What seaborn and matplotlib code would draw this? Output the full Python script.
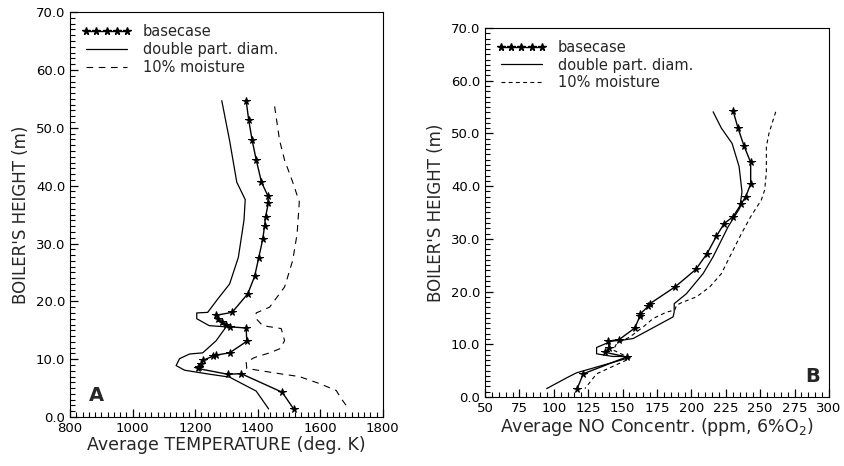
import numpy as np
import pandas as pd
import seaborn as sns
import matplotlib.pyplot as plt
from matplotlib.lines import Line2D
from matplotlib.ticker import MultipleLocator

# panel A: temperature profiles (deg K) vs height (m)
base_T = [1363, 1371, 1382, 1395, 1412, 1432, 1434, 1425, 1422, 1416, 1403, 1390, 1368,
          1318, 1267, 1272, 1286, 1299, 1310, 1363, 1365, 1310, 1265, 1256, 1224, 1219,
          1212, 1208, 1304, 1347, 1478, 1515]
base_hT = [54.7, 51.4, 47.9, 44.5, 40.6, 38.3, 37.0, 34.6, 33.1, 30.7, 27.5, 24.3, 21.3,
           18.1, 17.6, 17.0, 16.4, 16.0, 15.6, 15.4, 13.1, 11.1, 10.7, 10.5, 9.8, 9.2,
           8.6, 8.4, 7.4, 7.5, 4.3, 1.4]
diam_T = [1285, 1310, 1333, 1360, 1356, 1338, 1310, 1272, 1240, 1205, 1205, 1245, 1299,
          1267, 1224, 1182, 1150, 1139, 1166, 1235, 1310, 1395, 1435]
diam_hT = [54.7, 47.8, 40.6, 37.6, 34.0, 27.6, 23.0, 20.4, 18.1, 18.0, 17.0, 15.8, 15.6,
           13.2, 11.1, 10.9, 10.1, 8.9, 8.1, 7.5, 6.9, 4.5, 1.4]
moist_T = [1454, 1470, 1486, 1512, 1533, 1526, 1512, 1486, 1438, 1395, 1395, 1416, 1475,
           1486, 1470, 1438, 1390, 1363, 1365, 1470, 1533, 1597, 1651, 1667, 1691]
moist_hT = [53.7, 47.8, 44.4, 40.6, 37.2, 31.7, 27.1, 22.5, 19.0, 18.0, 17.0, 15.8, 15.3,
            13.2, 11.8, 11.1, 10.3, 9.5, 8.4, 7.5, 7.0, 5.8, 4.6, 3.2, 1.4]

# panel B: NO concentration (ppm) vs height (m)
base_NO = [230.3, 233.9, 238.3, 243.1, 243.1, 239.5, 236.4, 230.3, 223.8, 218.2, 211.4,
           203.2, 188.2, 169.8, 168.6, 163.0, 162.5, 158.9, 147.5, 139.5, 140.3, 137.1,
           152.9, 121.4, 117.0]
base_hN = [54.3, 51.0, 47.6, 44.5, 40.4, 38.0, 36.7, 34.2, 32.9, 30.5, 27.2, 24.2, 20.9,
           17.7, 17.2, 15.8, 15.3, 13.1, 10.9, 10.6, 9.3, 8.5, 7.6, 4.4, 1.6]
diam_NO = [215.8, 221.8, 229.6, 234.7, 236.8, 235.1, 226.7, 215.8, 208.5, 196.4, 187.5,
           187.5, 186.7, 157.7, 150.4, 142.0, 131.1, 131.1, 142.7, 150.4, 155.3, 116.6,
           110.5, 94.8]
diam_hN = [54.1, 51.0, 48.1, 43.7, 38.9, 35.8, 32.3, 26.6, 23.4, 19.6, 17.7, 16.1, 15.2,
           11.1, 10.8, 10.6, 9.4, 8.2, 7.7, 7.7, 7.5, 4.6, 3.8, 1.6]
moist_NO = [261.3, 256.4, 254.5, 254.5, 253.3, 250.9, 243.1, 236.4, 227.9, 221.8, 213.4,
            203.7, 192.8, 189.2, 187.9, 181.9, 177.1, 172.2, 165.0, 155.3, 145.6, 143.2,
            152.9, 155.3, 131.1, 122.6]
moist_hN = [54.1, 50.0, 47.5, 42.7, 39.3, 37.4, 34.2, 31.0, 26.6, 23.4, 20.9, 19.0, 17.9,
            17.4, 16.5, 16.1, 15.5, 14.9, 13.3, 11.4, 10.1, 8.9, 7.7, 7.3, 4.4, 1.6]

labels = ["basecase", "double part. diam.", "10% moisture"]

sns.set_style("ticks")
plt.rcParams["font.family"] = ["DejaVu Sans"]
plt.rcParams["xtick.minor.visible"] = True
plt.rcParams["ytick.minor.visible"] = True

fig = plt.figure(figsize=(8.45, 4.66), dpi=100)
axA = fig.add_axes([0.083, 0.105, 0.370, 0.869])
axB = fig.add_axes([0.574, 0.148, 0.407, 0.792])


def draw(ax, bx, by, dx, dy, mx, my, dash):
    sns.lineplot(x=bx, y=by, sort=False, estimator=None, ax=ax, color="black",
                 lw=1.0, marker="*", markersize=5.5, markeredgecolor="black")
    sns.lineplot(x=dx, y=dy, sort=False, estimator=None, ax=ax, color="black", lw=0.9)
    sns.lineplot(x=mx, y=my, sort=False, estimator=None, ax=ax, color="black",
                 lw=0.8, dashes=False, linestyle=(0, dash))
    ax.set_ylim(0, 70)
    ax.yaxis.set_major_locator(MultipleLocator(10))
    ax.yaxis.set_minor_locator(MultipleLocator(1))
    ax.yaxis.set_major_formatter(plt.FormatStrFormatter("%.1f"))
    ax.tick_params(which="both", direction="in", colors="black", labelsize=9.5,
                   top=False, right=False, bottom=True, left=True)
    ax.tick_params(which="major", length=6, width=0.9)
    ax.tick_params(which="minor", length=3.5, width=0.8)
    for s in ax.spines.values():
        s.set_linewidth(0.8)
        s.set_color("black")
    ax.set_ylabel("BOILER'S HEIGHT (m)", fontsize=12)
    handles = [Line2D([], [], color="black", lw=1.0, marker="*", markersize=5.5,
                      markeredgecolor="black"),
               Line2D([], [], color="black", lw=0.9),
               Line2D([], [], color="black", lw=0.8, linestyle=(0, dash))]
    leg = ax.legend(handles, labels, loc="upper left", frameon=False, fontsize=10.5,
                    handlelength=3.4, numpoints=5, borderaxespad=0.4,
                    labelspacing=0.2, handletextpad=0.8)
    # only the first handle carries markers
    leg.legend_handles[1].set_marker("")
    leg.legend_handles[2].set_marker("")


draw(axA, base_T, base_hT, diam_T, diam_hT, moist_T, moist_hT, (6, 5))
axA.set_xlim(800, 1800)
axA.xaxis.set_major_locator(MultipleLocator(200))
axA.xaxis.set_minor_locator(MultipleLocator(20))
axA.set_xlabel("Average TEMPERATURE (deg. K)", fontsize=12.5, labelpad=1)
axA.text(0.06, 0.04, "A", transform=axA.transAxes, fontsize=14, fontweight="bold")

draw(axB, base_NO, base_hN, diam_NO, diam_hN, moist_NO, moist_hN, (3.5, 3))
axB.set_xlim(50, 300)
axB.xaxis.set_major_locator(MultipleLocator(25))
axB.xaxis.set_minor_locator(MultipleLocator(5))
axB.set_xlabel("Average NO Concentr. (ppm, 6%O$_2$)", fontsize=12.5, labelpad=1)
axB.text(0.93, 0.04, "B", transform=axB.transAxes, fontsize=14, fontweight="bold")

fig.savefig("out.png", dpi=100)
